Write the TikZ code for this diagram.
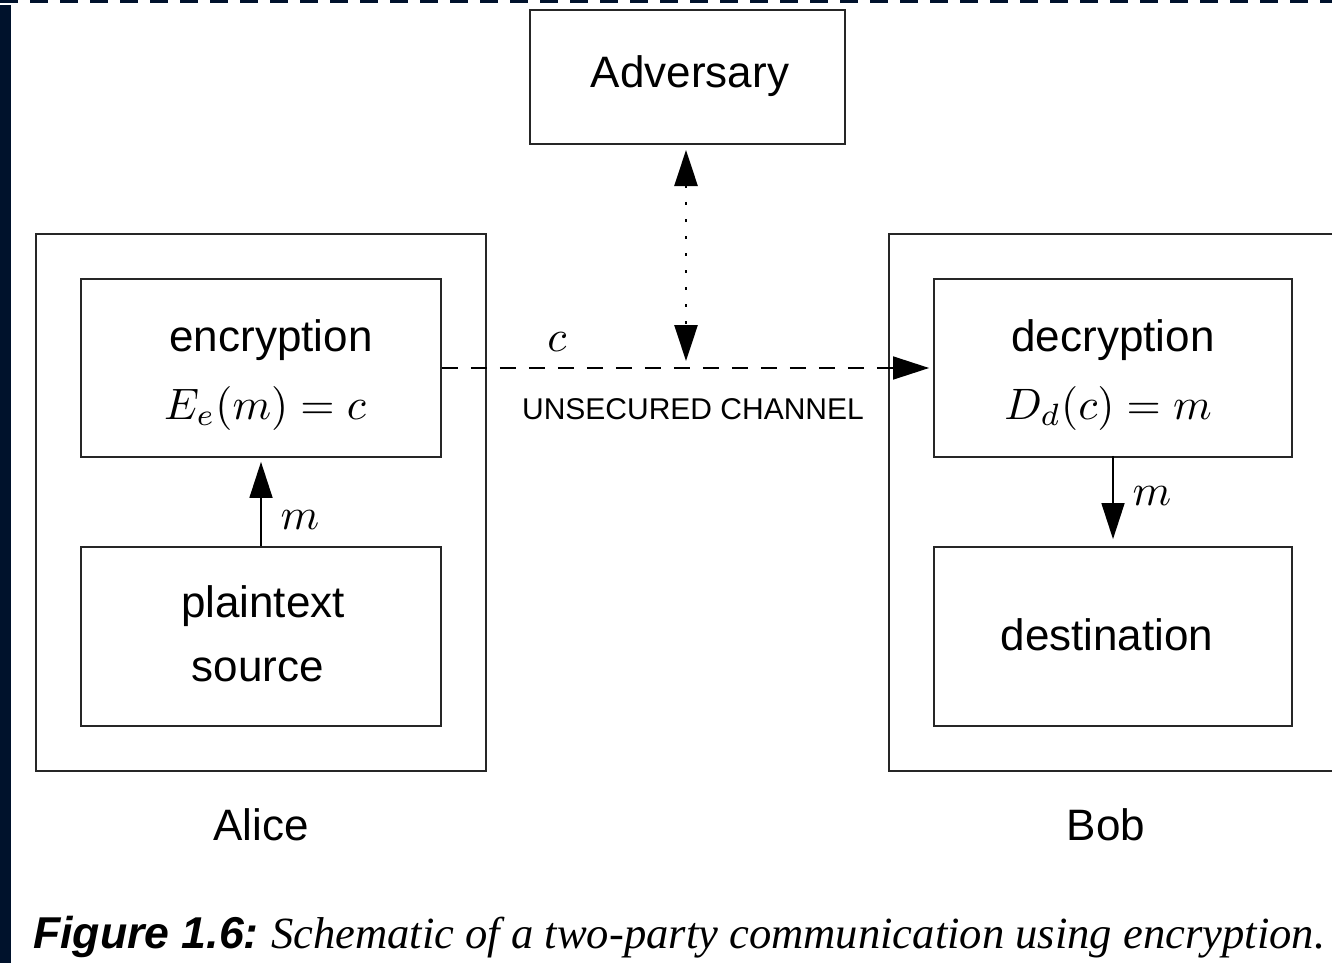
\documentclass[tikz,border=0pt]{standalone}
\usepackage{graphicx}
\usepackage{fontspec}
\setmainfont{Liberation Sans}
\newfontfamily\capserif{Liberation Serif}
\usetikzlibrary{arrows.meta}
\definecolor{navy}{HTML}{00122C}
% math set at 10pt and enlarged to the size of the labels
\newcommand{\bigmath}[1]{\scalebox{4.4}{$#1$}}
\begin{document}
\begin{tikzpicture}[x=1pt,y=-1pt,
  box/.style={draw=black!85,line width=1.8pt,inner sep=0pt},
  lbl/.style={anchor=base,inner sep=0pt,font=\fontsize{44}{52}\selectfont},
  mlbl/.style={anchor=base,inner sep=0pt,font=\normalsize},
  tip/.style={-{Triangle[length=36pt,width=23pt]}},
  twotips/.style={{Triangle[length=36pt,width=23pt]}-{Triangle[length=36pt,width=23pt]}},
  link/.style={line width=1.6pt,black}]
  \clip (0,0) rectangle (1332,963);
  \fill[white] (0,0) rectangle (1332,963);
  % dark frame pieces along the edges
  \fill[navy] (0,5) rectangle (11,963);
  \draw[navy,line width=3pt,dash pattern=on 18pt off 12pt] (0,1.5) -- (1332,1.5);

  % boxes
  \node[box,minimum width=315pt,minimum height=134pt] (adv) at (687.5,77) {};
  \node[box,minimum width=450pt,minimum height=537pt] (alice) at (261,502.5) {};
  \node[box,minimum width=360pt,minimum height=178pt] (enc) at (261,368) {};
  \node[box,minimum width=360pt,minimum height=179pt] (src) at (261,636.5) {};
  \draw[draw=black!85,line width=1.8pt] (1345,234) -- (889,234) -- (889,771) -- (1345,771);
  \node[box,minimum width=358pt,minimum height=178pt] (dec) at (1113,368) {};
  \node[box,minimum width=358pt,minimum height=179pt] (dst) at (1113,636.5) {};

  % texts
  \node[lbl] (tadv) at (690,88) {Adversary};
  \node[lbl] (tenc) at (271,351) {encryption};
  \node[mlbl] (tenf) at (265,419) {\bigmath{E_e(m)=c}};
  \node[lbl] (tpl) at (263,617) {plaintext};
  \node[lbl] (tsrc) at (258,681) {source};
  \node[lbl] (tdec) at (1113,351) {decryption};
  \node[mlbl] (tdef) at (1108,419) {\bigmath{D_d(c)=m}};
  \node[lbl] (tdst) at (1107,650) {destination};
  \node[lbl] (talice) at (261,840) {Alice};
  \node[lbl] (tbob) at (1106,840) {Bob};
  \node[anchor=base,inner sep=0pt,font=\fontsize{30}{36}\selectfont] (tch) at (693,419) {UNSECURED CHANNEL};
  \node[mlbl] (tc) at (557,351) {\bigmath{c}};
  \node[mlbl] (tm1) at (300,529) {\bigmath{m}};
  \node[mlbl] (tm2) at (1152,505) {\bigmath{m}};

  % connectors
  \coordinate (chan) at (686,361);
  \coordinate (ax) at (686,150);
  \draw[link,tip] (src.north) -- ([yshift=-4pt]enc.south);
  \draw[link,tip] ([yshift=2pt]dec.south) -- ([yshift=7pt]dst.north);
  \draw[link,tip,dash pattern=on 16pt off 13pt] (enc.east) -- ([xshift=-4pt]dec.west);
  \draw[link,line width=2.8pt,twotips,dash pattern=on 3pt off 14pt] (ax) -- (chan);

  % caption
  \node[anchor=base west,inner sep=0pt,font=\fontsize{44.6}{52}\selectfont] (cap) at (33,948)
    {\bfseries\itshape Figure 1.6:\ \mdseries{\capserif Schematic of a two-party communication using encryption.}};
\end{tikzpicture}
\end{document}
